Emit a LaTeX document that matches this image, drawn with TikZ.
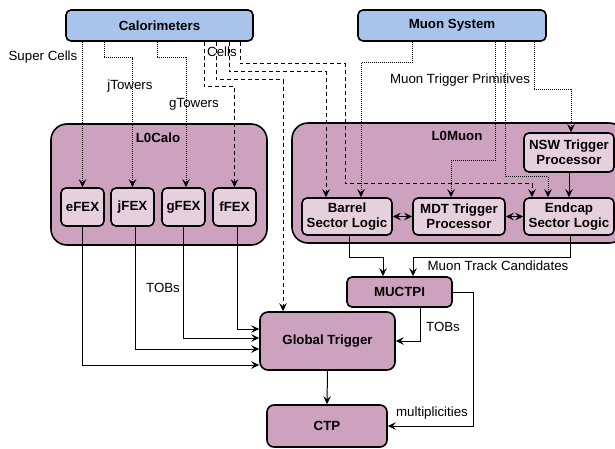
\documentclass[tikz,border=0pt]{standalone}
\usepackage{fontspec}
\setmainfont{Liberation Sans}
\usetikzlibrary{arrows.meta}
\definecolor{blueF}{HTML}{A9C4EB}
\definecolor{pinkF}{HTML}{CDA2BE}
\definecolor{lightF}{HTML}{E6D0DE}
\begin{document}
\begin{tikzpicture}[x=1pt,y=-1pt,
  font=\fontsize{13.3}{15}\selectfont,
  >={Stealth[length=8pt,width=7.5pt,inset=3pt]},
  bx/.style={draw=black, line width=1.6pt, rounded corners=5pt, align=center, inner sep=0pt,
    font=\fontsize{13.3}{15}\selectfont\bfseries},
  srcbox/.style={bx, fill=blueF},
  contbox/.style={bx, fill=pinkF, rounded corners=16pt},
  inbox/.style={bx, fill=lightF},
  mainbox/.style={bx, fill=pinkF},
  conn/.style={line width=1pt, ->},
  dotconn/.style={conn, dash pattern=on 1pt off 1pt},
  dashconn/.style={conn, line width=1pt, dash pattern=on 4pt off 3pt},
  lbl/.style={inner sep=0pt},
  blbl/.style={inner sep=0pt, font=\fontsize{13.3}{15}\selectfont\bfseries}
]
\useasboundingbox (0,0) rectangle (615,448);

% sources
\node[srcbox, minimum width=187pt, minimum height=31pt] (cal) at (159.5,25.5) {Calorimeters};
\node[srcbox, minimum width=188pt, minimum height=31pt] (muon) at (452,25.5) {Muon System};

% containers
\node[contbox, minimum width=216pt, minimum height=121pt] (l0calo) at (159,184.5) {};
\node[contbox, minimum width=333pt, minimum height=120pt] (l0muon) at (458.5,183) {};
\node[blbl] (l0calolbl) at (158,138) {L0Calo};
\node[blbl] (l0muonlbl) at (457,136) {L0Muon};

% FEX boxes
\node[inbox, minimum width=43pt, minimum height=38pt] (efex) at (82.5,207) {eFEX};
\node[inbox, minimum width=43pt, minimum height=38pt] (jfex) at (132.5,207) {jFEX};
\node[inbox, minimum width=43pt, minimum height=38pt] (gfex) at (183.5,207) {gFEX};
\node[inbox, minimum width=43pt, minimum height=38pt] (ffex) at (234.5,207) {fFEX};

% muon boxes
\node[inbox, minimum width=90pt, minimum height=39pt] (nsw) at (569,152.5) {NSW Trigger\\Processor};
\node[inbox, minimum width=90pt, minimum height=37pt] (barrel) at (347,216.5) {Barrel\\Sector Logic};
\node[inbox, minimum width=92pt, minimum height=37pt] (mdt) at (459,216.5) {MDT Trigger\\Processor};
\node[inbox, minimum width=90pt, minimum height=37pt] (endcap) at (569,216.5) {Endcap\\Sector Logic};

% main boxes
\node[mainbox, minimum width=105pt, minimum height=30pt] (muctpi) at (399.5,292) {MUCTPI};
\node[mainbox, minimum width=135pt, minimum height=58pt, rounded corners=8pt] (gt) at (327.5,341) {Global Trigger};
\node[mainbox, minimum width=120pt, minimum height=42pt, rounded corners=7pt] (ctp) at (327,426) {CTP};

% calorimeter connectors (dotted)
\draw[dotconn] (efex.north |- cal.south) -- (efex.north);
\draw[dotconn] ([xshift=-55.5pt]cal.south) -- ++(0,16) -| (jfex.north);
\draw[dotconn] ([xshift=-2.5pt]cal.south) -- ++(0,16) -| ([xshift=2.5pt]gfex.north);

% cells (dashed)
\draw[dashconn] ([xshift=44.5pt]cal.south) -- ++(0,45) -| (ffex.north);
\draw[dashconn] ([xshift=56.5pt]cal.south) -- ++(0,38) -| ([xshift=-44.5pt]gt.north);
\draw[dashconn] ([xshift=69.5pt]cal.south) -- ++(0,30) -| ([xshift=-21pt]barrel.north);
\draw[dashconn] ([xshift=80.5pt]cal.south) -- ++(0,22) -- ++(105,0) -- ++(0,120) -| ([xshift=-37pt]endcap.north);

% muon primitives (dotted)
\draw[dotconn] ([xshift=-40pt]muon.south) -- ++(0,21) -| ([xshift=14pt]barrel.north);
\draw[dotconn] ([xshift=43pt]muon.south) -- ++(0,119) -| ([xshift=-8pt]mdt.north);
\draw[dotconn] ([xshift=53pt]muon.south) -- ++(0,135) -| ([xshift=-21pt]endcap.north);
\draw[dotconn] ([xshift=82pt]muon.south) -- ++(0,48) -| ([xshift=2pt]nsw.north);

% inside L0Muon
\draw[conn] (nsw.south) -- (endcap.north);
\draw[conn, <->] (barrel.east) -- (mdt.west);
\draw[conn, <->] (mdt.east) -- (endcap.west);

% to MUCTPI
\draw[conn] ([xshift=2pt]barrel.south) -- ++(0,22) -| ([xshift=-16.5pt]muctpi.north);
\draw[conn] ([xshift=1pt]endcap.south) -- ++(0,22) -| ([xshift=13.5pt]muctpi.north);

% FEX to Global Trigger
\draw[conn] ([xshift=2.5pt]ffex.south) |- ([yshift=12pt]gt.west);
\draw[conn] (gfex.south) |- ([yshift=3pt]gt.west);
\draw[conn] ([xshift=2.5pt]jfex.south) |- ([yshift=-8pt]gt.west);
\draw[conn] (efex.south) |- ([yshift=-24pt]gt.west);

% MUCTPI to GT, CTP
\draw[conn] ([xshift=20.5pt]muctpi.south) |- (gt.east);
\draw[conn] (muctpi.east) -- ++(21,0) |- (ctp.east);
\draw[conn] (gt.south) -- (ctp.north);

% labels
\node[lbl] (lsc) at (43,57) {Super Cells};
\node[lbl] (lcells) at (222,52) {Cells};
\node[lbl] (ljt) at (130,86) {jTowers};
\node[lbl] (lgt) at (194,104) {gTowers};
\node[lbl] (lmtp) at (460,80) {Muon Trigger Primitives};
\node[lbl] (ltobs1) at (163,288) {TOBs};
\node[lbl] (lmtc) at (498,266) {Muon Track Candidates};
\node[lbl] (ltobs2) at (443,327) {TOBs};
\node[lbl] (lmult) at (432,413) {multiplicities};
\end{tikzpicture}
\end{document}
